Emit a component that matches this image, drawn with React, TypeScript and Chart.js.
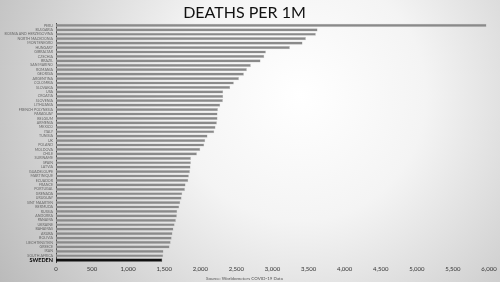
import React, { useEffect, useRef } from "react";
import { Chart, registerables } from "chart.js";

Chart.register(...registerables);

const countries: string[] = [
  "PERU", "BULGARIA", "BOSNIA AND HERZEGOVINA", "NORTH MACEDONIA", "MONTENEGRO",
  "HUNGARY", "GIBRALTAR", "CZECHIA", "BRAZIL", "SAN MARINO", "ROMANIA", "GEORGIA",
  "ARGENTINA", "COLOMBIA", "SLOVAKIA", "USA", "CROATIA", "SLOVENIA", "LITHUANIA",
  "FRENCH POLYNESIA", "PARAGUAY", "BELGIUM", "ARMENIA", "MEXICO", "ITALY", "TUNISIA",
  "UK", "POLAND", "MOLDOVA", "CHILE", "SURINAME", "SPAIN", "LATVIA", "GUADELOUPE",
  "MARTINIQUE", "ECUADOR", "FRANCE", "PORTUGAL", "GRENADA", "URUGUAY", "SINT MAARTEN",
  "BERMUDA", "RUSSIA", "ANDORRA", "PANAMA", "UKRAINE", "BAHAMAS", "ARUBA", "BOLIVIA",
  "LIECHTENSTEIN", "GREECE", "IRAN", "SOUTH AFRICA", "SWEDEN",
];

const deathsPer1M: number[] = [
  5966, 3625, 3601, 3463, 3417, 3241, 2909, 2886, 2835, 2700, 2645, 2604, 2535, 2465,
  2414, 2317, 2317, 2313, 2276, 2244, 2239, 2239, 2230, 2211, 2193, 2100, 2068, 2054,
  1999, 1953, 1870, 1870, 1865, 1856, 1842, 1833, 1796, 1787, 1750, 1741, 1722, 1708,
  1680, 1676, 1662, 1645, 1628, 1615, 1604, 1590, 1575, 1490, 1486, 1472,
];

const highlight = "SWEDEN";
const titleText = "DEATHS PER 1M";
const sourceText = "Source: Worldometers COVID-19 Data";

const bgPlugin = {
  id: "bgGradient",
  beforeDraw(chart: any) {
    const { ctx, width, height } = chart;
    ctx.save();
    const g = ctx.createRadialGradient(300, 95, 0, 300, 95, 360);
    g.addColorStop(0, "#ffffff");
    g.addColorStop(0.35, "#f4f4f4");
    g.addColorStop(1, "#b9b9b9");
    ctx.fillStyle = g;
    ctx.fillRect(0, 0, width, height);
    ctx.restore();
  },
};

export default function App() {
  const ref = useRef<HTMLCanvasElement>(null);

  useEffect(() => {
    document.body.style.margin = "0";
    const canvas = ref.current;
    if (!canvas) return;
    const chart = new Chart(canvas, {
      type: "bar",
      data: {
        labels: countries,
        datasets: [
          {
            data: deathsPer1M,
            backgroundColor: countries.map((c) => (c === highlight ? "#111111" : "#8a8a8a")),
            borderColor: countries.map((c) => (c === highlight ? "#111111" : "#c4c4c4")),
            borderWidth: 0.5,
            barPercentage: 0.72,
            categoryPercentage: 1,
          },
        ],
      },
      options: {
        indexAxis: "y",
        animation: false,
        responsive: false,
        maintainAspectRatio: false,
        layout: { padding: { left: 0, right: 11, top: 0, bottom: 1 } },
        plugins: {
          legend: { display: false },
          tooltip: { enabled: false },
          title: {
            display: true,
            text: titleText,
            color: "#111111",
            font: { family: "Lato", size: 16, weight: "normal" },
            padding: { top: 3, bottom: 1 },
          },
          subtitle: {
            display: true,
            position: "bottom",
            text: sourceText,
            color: "#555555",
            font: { family: "Lato", size: 4.5 },
            padding: { top: 0, bottom: 0 },
          },
        },
        scales: {
          x: {
            min: 0,
            max: 6000,
            ticks: {
              stepSize: 500,
              color: "#333333",
              font: { family: "Lato", size: 6 },
              padding: 3,
              maxRotation: 0,
            },
            grid: { display: false, drawTicks: false },
            border: { display: false },
          },
          y: {
            afterFit(scale: any) {
              scale.width = 56;
            },
            ticks: {
              autoSkip: false,
              padding: 3,
              color: (ctx: any) => (countries[ctx.index] === highlight ? "#000000" : "#666666"),
              font: (ctx: any) =>
                countries[ctx.index] === highlight
                  ? { family: "Lato", size: 5.5, weight: "bold" }
                  : { family: "Lato", size: 3.6 },
            },
            grid: { display: false, drawTicks: false },
            border: { display: true, color: "#444444", width: 1 },
          },
        },
      },
      plugins: [bgPlugin],
    } as any);
    return () => chart.destroy();
  }, []);

  return (
    <div style={{ position: "fixed", left: 0, top: 0, width: 500, height: 282 }}>
      <canvas ref={ref} width={500} height={282} style={{ display: "block" }} />
    </div>
  );
}
